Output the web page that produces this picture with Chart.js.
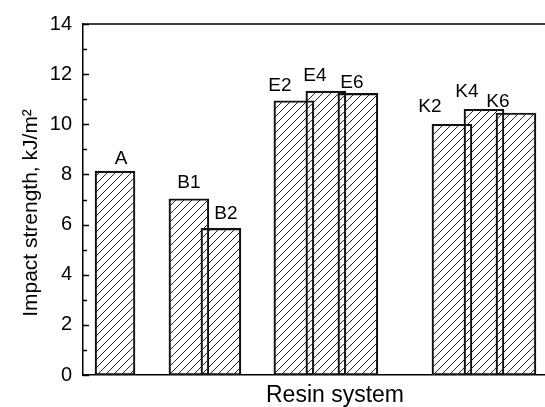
<!DOCTYPE html>
<html><head>
<meta charset="utf-8">
<script src="https://cdn.jsdelivr.net/npm/chart.js@4"></script>
<style>
html,body{margin:0;padding:0;background:#fff;overflow:hidden}
#wrap{width:545px;height:407px;overflow:hidden;position:relative}
canvas{display:block}
</style>
</head>
<body>
<div id="wrap"><canvas id="c" width="587" height="407"></canvas></div>
<script>
// ---- data ----
const categories = ['A', 'B1', 'B2', 'E2', 'E4', 'E6', 'K2', 'K4', 'K6'];
const impactStrength = [8.13, 7.03, 5.85, 10.94, 11.32, 11.23, 10.0, 10.6, 10.45];
const yTicks = [0, 2, 4, 6, 8, 10, 12, 14];
const yTitle = 'Impact strength, kJ/m²';
const xTitle = 'Resin system';

// ---- layout (not data) ----
const xPos = [1.0, 3.31, 4.31, 6.59, 7.59, 8.59, 11.53, 12.53, 13.53];
const labelDx = [6, 0, 5, -14, -11, -6, -22, -17, -18];
const labelGap = [7, 11, 9, 10, 10, 5, 12, 12, 6];

const FONT = '"Liberation Sans", Arial, sans-serif';
Chart.defaults.font.family = FONT;
Chart.defaults.color = '#000';

function hatch() {
  const s = 8;
  const pc = document.createElement('canvas');
  pc.width = s; pc.height = s;
  const g = pc.getContext('2d');
  g.strokeStyle = '#222';
  g.lineWidth = 1;
  g.beginPath();
  g.moveTo(-1, s + 1); g.lineTo(s + 1, -1);
  g.moveTo(-1, 1); g.lineTo(1, -1);
  g.moveTo(s - 1, s + 1); g.lineTo(s + 1, s - 1);
  g.stroke();
  return g.createPattern(pc, 'repeat');
}

const decor = {
  id: 'decor',
  afterDraw(chart) {
    const ctx = chart.ctx;
    const ca = chart.chartArea;
    const ys = chart.scales.y;
    ctx.save();
    ctx.strokeStyle = '#000';
    ctx.lineWidth = 1.5;
    ctx.beginPath();
    ctx.moveTo(ca.left, ca.top);
    ctx.lineTo(ca.right, ca.top);
    for (let v = 0; v <= 14; v++) {
      const y = Math.round(ys.getPixelForValue(v)) + 0.5;
      const len = v % 2 === 0 ? 6 : 4;
      ctx.moveTo(ca.left, y);
      ctx.lineTo(ca.left + len, y);
    }
    ctx.stroke();
    // y axis title
    ctx.translate(31, 213);
    ctx.rotate(-Math.PI / 2);
    ctx.fillStyle = '#000';
    ctx.font = '21px ' + FONT;
    ctx.textAlign = 'center';
    ctx.textBaseline = 'middle';
    ctx.fillText(yTitle, 0, 0);
    ctx.restore();
  },
  afterDatasetsDraw(chart) {
    const ctx = chart.ctx;
    const meta = chart.getDatasetMeta(0);
    ctx.save();
    ctx.fillStyle = '#000';
    ctx.font = '19px ' + FONT;
    ctx.textAlign = 'center';
    ctx.textBaseline = 'alphabetic';
    meta.data.forEach((bar, i) => {
      ctx.fillText(categories[i], bar.x + labelDx[i], bar.y - labelGap[i]);
    });
    ctx.restore();
  }
};

new Chart(document.getElementById('c'), {
  type: 'bar',
  data: {
    datasets: [{
      data: categories.map((c, i) => ({ x: xPos[i], y: impactStrength[i] })),
      backgroundColor: hatch(),
      borderColor: '#111',
      borderWidth: 1.5,
      borderSkipped: false,
      barThickness: 40
    }]
  },
  options: {
    responsive: false,
    animation: false,
    devicePixelRatio: 1,
    layout: { padding: { top: 24, right: 0, left: 0, bottom: 0 } },
    plugins: { legend: { display: false }, tooltip: { enabled: false } },
    scales: {
      x: {
        type: 'linear',
        offset: false,
        min: 0,
        max: (587 - 83) / 32,
        grid: { display: false, drawTicks: false },
        ticks: { display: false },
        border: { display: true, color: '#000', width: 1.5 },
        title: { display: true, text: xTitle, font: { size: 23 }, color: '#000', padding: { top: 0, bottom: -2 } },
        afterFit(s) { s.height = 32; }
      },
      y: {
        min: 0,
        max: 14,
        afterBuildTicks(s) { s.ticks = yTicks.map(v => ({ value: v })); },
        ticks: { font: { size: 20 }, color: '#000', padding: 11 },
        grid: { display: false, drawTicks: false },
        border: { display: true, color: '#000', width: 1.5 },
        title: { display: false },
        afterFit(s) { s.width = 83; }
      }
    }
  },
  plugins: [decor]
});
</script>
</body></html>
